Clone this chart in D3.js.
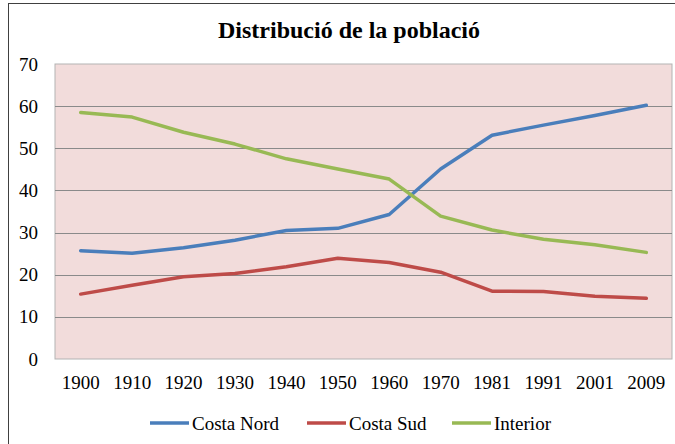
<!DOCTYPE html>
<html>
<head>
<meta charset="utf-8">
<script src="https://cdn.jsdelivr.net/npm/d3@7"></script>
<style>
  body { margin: 0; background: #fff; }
  svg { display: block; }
  text { font-family: "Liberation Serif", "DejaVu Serif", serif; fill: #000; }
</style>
</head>
<body>
<div id="chart"></div>
<script>
const years = ["1900", "1910", "1920", "1930", "1940", "1950", "1960", "1970", "1981", "1991", "2001", "2009"];
const costaNord = [25.7, 25.1, 26.4, 28.2, 30.5, 31.0, 34.3, 45.1, 53.1, 55.5, 57.8, 60.2];
const costaSud = [15.4, 17.5, 19.5, 20.3, 21.9, 23.9, 22.9, 20.6, 16.1, 16.0, 14.9, 14.4];
const interior = [58.5, 57.4, 53.8, 51.0, 47.5, 45.1, 42.7, 33.9, 30.6, 28.4, 27.1, 25.3];
const seriesNames = ["Costa Nord", "Costa Sud", "Interior"];
const yTicks = [0, 10, 20, 30, 40, 50, 60, 70];

const colors = ["#4a7ebb", "#be4b48", "#98b954"];
const series = [costaNord, costaSud, interior];

let chart = { width: 675, height: 444 };
let plot = { left: 55, right: 672, top: 64, bottom: 359 };

let svg = d3.select("#chart").append("svg")
  .attr("width", chart.width)
  .attr("height", chart.height);

// outer frame (right / bottom edges fall outside the picture)
svg.append("rect")
  .attr("x", 8.5).attr("y", 3.5)
  .attr("width", 700).attr("height", 500)
  .attr("fill", "#fff")
  .attr("stroke", "#404040")
  .attr("stroke-width", 1);

let x = d3.scaleBand().domain(years).range([plot.left, plot.right]).padding(0);
let y = d3.scaleLinear().domain([0, 70]).range([plot.bottom, plot.top]);

// plot background
svg.append("rect")
  .attr("x", plot.left).attr("y", plot.top)
  .attr("width", plot.right - plot.left)
  .attr("height", plot.bottom - plot.top)
  .attr("fill", "#f2dcdb")
  .attr("stroke", "#b3b3b3")
  .attr("stroke-width", 1);

// gridlines
svg.append("g")
  .selectAll("line")
  .data(yTicks.filter(t => t > 0 && t < 70))
  .enter()
  .append("line")
  .attr("x1", plot.left).attr("x2", plot.right)
  .attr("y1", d => Math.round(y(d)) + 0.5)
  .attr("y2", d => Math.round(y(d)) + 0.5)
  .attr("stroke", "#8a8a8a")
  .attr("stroke-width", 1);

// y axis labels
let yAxis = d3.axisLeft(y).tickValues(yTicks).tickSize(0).tickPadding(0);
svg.append("g")
  .attr("transform", `translate(38,0)`)
  .call(yAxis)
  .call(g => g.select(".domain").remove())
  .selectAll("text")
  .attr("font-size", 19)
  .attr("font-family", "Liberation Serif")
  .attr("fill", "#000");

// x axis labels
let xAxis = d3.axisBottom(x).tickSize(0).tickPadding(0);
svg.append("g")
  .attr("transform", `translate(0,375)`)
  .call(xAxis)
  .call(g => g.select(".domain").remove())
  .selectAll("text")
  .attr("font-size", 19)
  .attr("font-family", "Liberation Serif")
  .attr("fill", "#000");

// lines
let line = d3.line()
  .x((d, i) => x(years[i]) + x.bandwidth() / 2)
  .y(d => y(d));

svg.append("g")
  .selectAll("path")
  .data(series)
  .enter()
  .append("path")
  .attr("d", line)
  .attr("fill", "none")
  .attr("stroke", (d, i) => colors[i])
  .attr("stroke-width", 3.5)
  .attr("stroke-linejoin", "round")
  .attr("stroke-linecap", "round");

// title
svg.append("text")
  .attr("x", 349).attr("y", 38)
  .attr("text-anchor", "middle")
  .attr("font-size", 24)
  .attr("font-weight", "bold")
  .text("Distribució de la població");

// legend
let legendX = [150, 307, 452];
let legend = svg.append("g")
  .selectAll("g")
  .data(seriesNames)
  .enter()
  .append("g")
  .attr("transform", (d, i) => `translate(${legendX[i]},423)`);

legend.append("line")
  .attr("x1", 0).attr("x2", 39)
  .attr("stroke", (d, i) => colors[i])
  .attr("stroke-width", 3.5);

legend.append("text")
  .attr("x", 42).attr("y", 6.5)
  .attr("font-size", 19)
  .text(d => d);
</script>
</body>
</html>
